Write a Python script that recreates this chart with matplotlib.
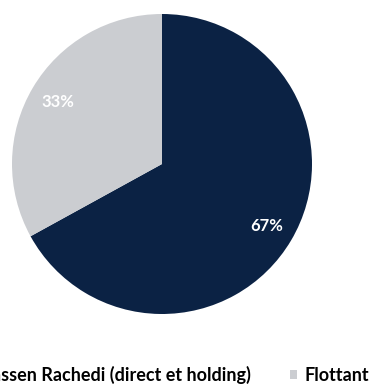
import matplotlib.pyplot as plt
from matplotlib.patches import Patch

labels = ['Hassen Rachedi (direct et holding)', 'Flottant']
shares = [67, 33]
colors = ['#0b2244', '#cbcdd1']

plt.rcParams['font.family'] = ['Lato', 'DejaVu Sans']

fig = plt.figure(figsize=(3.71, 3.85), dpi=100)
ax = fig.add_axes([12 / 371, 71 / 385, 300 / 371, 300 / 385])

wedges, texts, autotexts = ax.pie(
    shares, colors=colors, startangle=90, counterclock=False,
    autopct='%d%%', pctdistance=0.81, radius=1,
    wedgeprops=dict(linewidth=0),
    textprops=dict(color='white', fontsize=12, fontweight='bold'))
ax.set_xlim(-1, 1)
ax.set_ylim(-1, 1)

# legend is wider than the figure, so the first label runs off the left edge
handles = [Patch(facecolor=c, edgecolor='none') for c in colors]
fig.legend(handles, labels, loc='center right', bbox_to_anchor=(369 / 371, 10 / 385),
           ncol=2, frameon=False, handlelength=0.42, handleheight=0.42,
           handletextpad=0.4, columnspacing=2.15, borderaxespad=0,
           borderpad=0, prop=dict(size=13, weight='bold'))

fig.savefig('out.png', dpi=100, facecolor='white')
